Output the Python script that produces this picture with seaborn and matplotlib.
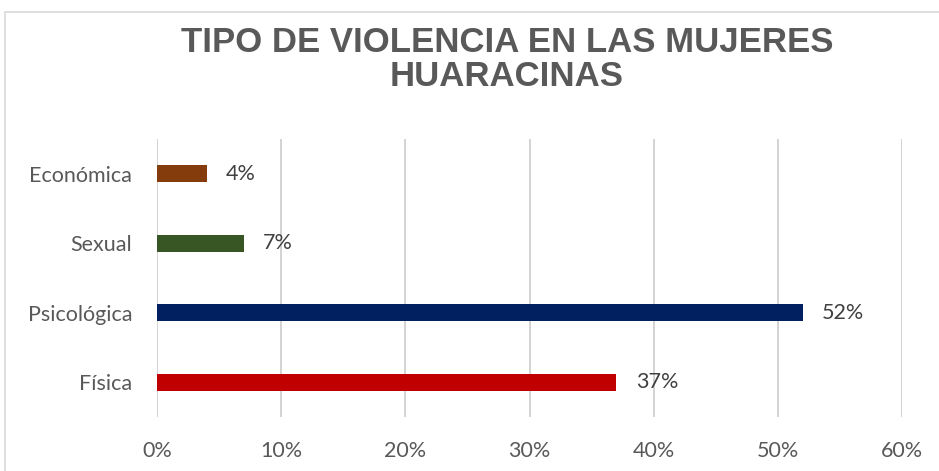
import pandas as pd
import seaborn as sns
import matplotlib.pyplot as plt
import matplotlib.patches as mpatches
from matplotlib.ticker import PercentFormatter

# --- data ---
categories = ["Económica", "Sexual", "Psicológica", "Física"]
values = [0.04, 0.07, 0.52, 0.37]
bar_colors = ["#843C0C", "#375623", "#002060", "#C00000"]
x_ticks = [0, 0.1, 0.2, 0.3, 0.4, 0.5, 0.6]

df = pd.DataFrame({"Tipo": categories, "Valor": values})

sns.set_style("white")
plt.rcParams["font.family"] = ["Lato", "DejaVu Sans"]

fig = plt.figure(figsize=(9.39, 4.71), dpi=100)
ax = fig.add_axes([157 / 939, 1 - 417 / 471, 745 / 939, 278 / 471])

# light frame round the chart area
fig.patches.append(mpatches.Rectangle(
    (5 / 939, -0.05), 1.0, 1 - 12 / 471 + 0.05,
    transform=fig.transFigure, fill=False, edgecolor="#D9D9D9", linewidth=1.2
))

sns.barplot(
    data=df, y="Tipo", x="Valor", hue="Tipo", palette=bar_colors,
    saturation=1, orient="h", width=0.245, legend=False, ax=ax, zorder=3,
    linewidth=0
)

# data labels
for cont in ax.containers:
    ax.bar_label(cont, labels=[f"{v * 100:.0f}%" for v in cont.datavalues],
                 padding=14, fontsize=15.5, color="#404040")

ax.set_xlim(0, 0.6)
ax.set_ylim(3.5, -0.5)
ax.set_xticks(x_ticks)
ax.xaxis.set_major_formatter(PercentFormatter(1.0, decimals=0))
ax.grid(axis="x", color="#D0D0D0", linewidth=1.3, zorder=0)
ax.set_axisbelow(True)
sns.despine(ax=ax, left=True, bottom=True, top=True, right=True)
ax.tick_params(axis="both", length=0, labelsize=15.5, labelcolor="#595959")
ax.tick_params(axis="x", pad=17)
ax.tick_params(axis="y", pad=18)
ax.set_xlabel("")
ax.set_ylabel("")

title_font = ["Liberation Sans", "DejaVu Sans"]
fig.text(507 / 939, 1 - 43 / 471, "TIPO DE VIOLENCIA EN LAS MUJERES",
         ha="center", va="center", fontsize=25, fontweight="bold",
         color="#595959", family=title_font)
fig.text(507 / 939, 1 - 77 / 471, "HUARACINAS",
         ha="center", va="center", fontsize=25, fontweight="bold",
         color="#595959", family=title_font)

plt.savefig("out.png", dpi=100)
